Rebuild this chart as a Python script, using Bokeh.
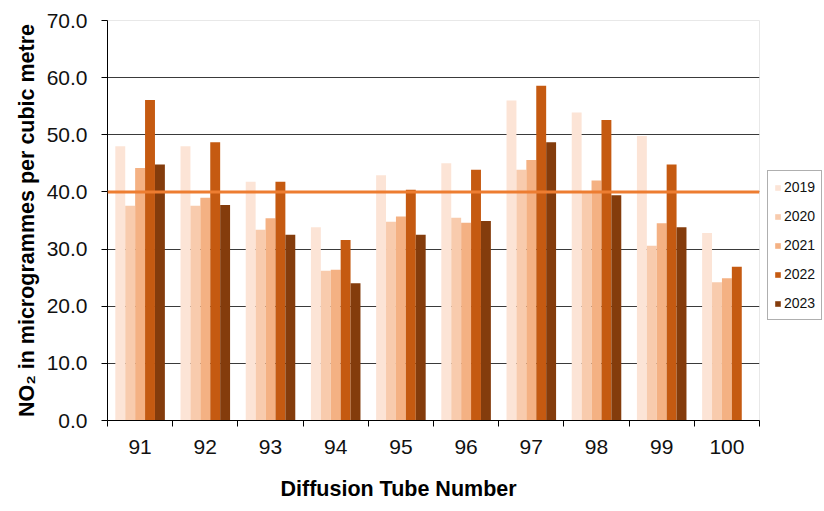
import numpy as np
from bokeh.plotting import figure
from bokeh.models import (ColumnDataSource, FixedTicker, Span, Legend, LegendItem,
                          Range1d, NumeralTickFormatter, Title)
from bokeh.transform import dodge
from bokeh.embed import file_html
from bokeh.resources import INLINE

tubes = ["91", "92", "93", "94", "95", "96", "97", "98", "99", "100"]
years = ["2019", "2020", "2021", "2022", "2023"]
v2019 = [48.0, 48.0, 41.8, 33.8, 42.9, 45.0, 56.0, 53.9, 49.8, 32.8]
v2020 = [37.6, 37.6, 33.4, 26.2, 34.8, 35.5, 43.9, 40.0, 30.6, 24.2]
v2021 = [44.2, 39.0, 35.4, 26.4, 35.7, 34.6, 45.6, 42.0, 34.5, 24.9]
v2022 = [56.1, 48.7, 41.8, 31.6, 40.4, 43.9, 58.6, 52.6, 44.8, 26.9]
v2023 = [44.8, 37.7, 32.5, 24.0, 32.5, 34.9, 48.7, 39.4, 33.8, float("nan")]
limit_value = 40.0
y_ticks = [0, 10, 20, 30, 40, 50, 60, 70]

colors = ["#FCE4D6", "#F8CBAD", "#F4B183", "#C55A11", "#843C0C"]
FONT = "Liberation Sans"

idx = np.arange(len(tubes))
centers = idx + 0.5
src = ColumnDataSource(dict(x=centers, y2019=v2019, y2020=v2020, y2021=v2021,
                            y2022=v2022, y2023=v2023))

p = figure(width=824, height=511, output_backend="svg", toolbar_location=None,
           x_range=Range1d(0, len(tubes)), y_range=Range1d(0, 70),
           frame_width=652, frame_height=400,
           min_border_left=107, min_border_right=65, min_border_top=20,
           min_border_bottom=0)
p.background_fill_color = "white"
p.border_fill_color = "white"
p.outline_line_color = "#E8E8E8"

bw = 0.152
offsets = [-2, -1, 0, 1, 2]
renderers = []
for yr, col, off in zip(years, colors, offsets):
    r = p.vbar(x=dodge("x", off * bw, range=p.x_range), top="y" + yr, width=bw,
               source=src, fill_color=col, line_color=None)
    renderers.append(r)

p.add_layout(Span(location=limit_value, dimension="width", line_color="#ED7D31",
                  line_width=3))

# axes
p.xaxis.ticker = FixedTicker(ticks=list(centers), minor_ticks=list(range(len(tubes) + 1)))
p.xaxis.major_label_overrides = {float(c): t for c, t in zip(centers, tubes)}
p.xaxis.major_tick_out = 0
p.xaxis.major_tick_in = 0
p.xaxis.minor_tick_out = 6
p.xaxis.minor_tick_in = 0
p.xaxis.minor_tick_line_color = "black"
p.xaxis.axis_line_color = "black"
p.xaxis.major_label_text_font = FONT
p.xaxis.major_label_text_font_size = "21px"
p.xaxis.major_label_text_color = "#111111"
p.xaxis.major_label_standoff = 13

xtitle = Title(text="Diffusion  Tube Number", align="left", offset=173,
               text_font=FONT, text_font_size="21.5px", text_font_style="bold",
               text_color="black", standoff=37)
p.add_layout(xtitle, "below")

p.yaxis.ticker = FixedTicker(ticks=y_ticks)
p.yaxis.formatter = NumeralTickFormatter(format="0.0")
p.yaxis.major_tick_out = 6
p.yaxis.major_tick_in = 0
p.yaxis.minor_tick_line_color = None
p.yaxis.axis_line_color = "black"
p.yaxis.major_label_text_font = FONT
p.yaxis.major_label_text_font_size = "21px"
p.yaxis.major_label_text_color = "#111111"
p.yaxis.major_label_standoff = 14
p.yaxis.axis_label = "NO₂ in microgrammes per cubic metre"
p.yaxis.axis_label_text_font = FONT
p.yaxis.axis_label_text_font_size = "21.5px"
p.yaxis.axis_label_text_font_style = "bold"
p.yaxis.axis_label_text_color = "black"
p.yaxis.axis_label_standoff = 5

p.xgrid.grid_line_color = None
p.ygrid.ticker = FixedTicker(ticks=y_ticks)
p.ygrid.grid_line_color = "#3A3A3A"
p.ygrid.grid_line_width = 1

legend = Legend(items=[LegendItem(label=yr, renderers=[r]) for yr, r in zip(years, renderers)],
                location=(8, 100), orientation="vertical")
legend.label_text_font = FONT
legend.label_text_font_size = "14px"
legend.label_text_color = "#111111"
legend.glyph_width = 7
legend.glyph_height = 7
legend.label_height = 20
legend.label_standoff = 3
legend.spacing = 9
legend.padding = 6
legend.margin = 0
legend.border_line_color = "#606060"
legend.border_line_width = 1
legend.background_fill_color = "white"
legend.background_fill_alpha = 1
p.add_layout(legend, "right")

open("out.html", "w").write(file_html(p, INLINE))
